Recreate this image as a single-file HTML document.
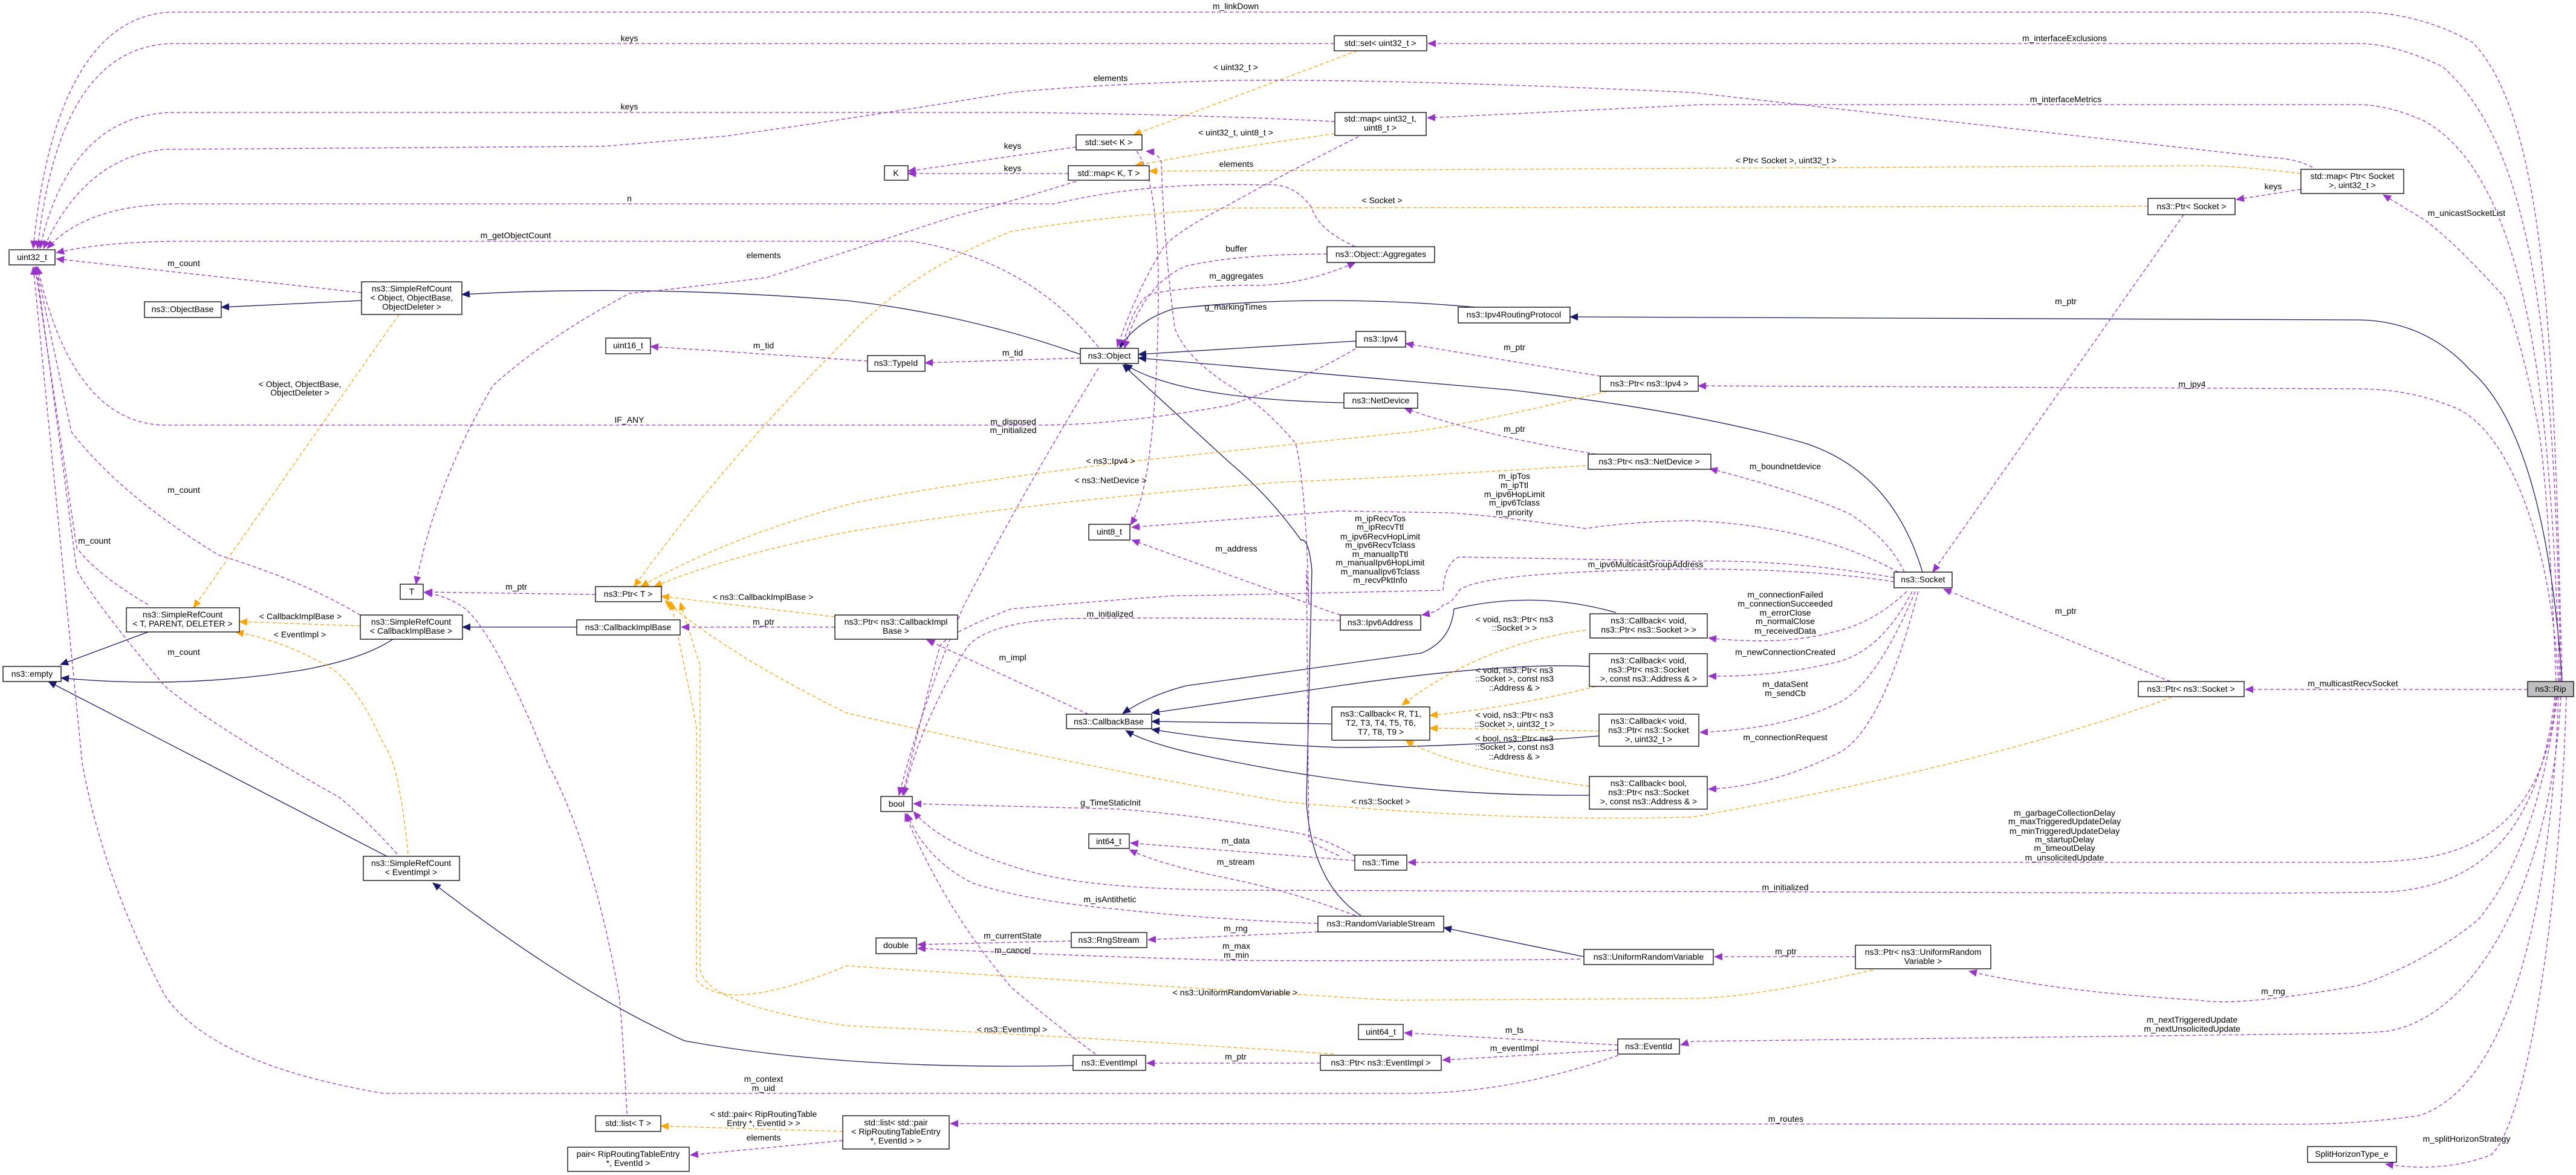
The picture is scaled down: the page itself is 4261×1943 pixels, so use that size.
<!DOCTYPE html>
<html><head><meta charset="utf-8"><style>
html,body{margin:0;padding:0;background:#fff;}
svg{display:block;}
text{font-family:"Liberation Sans",sans-serif;font-size:14px;fill:#000;}
.n{fill:#fff;stroke:#000;stroke-width:1.3;}
.p{fill:none;stroke:#9a32cd;stroke-width:1.3;stroke-dasharray:6,4;marker-end:url(#mp);}
.o{fill:none;stroke:#ffa500;stroke-width:1.3;stroke-dasharray:6,4;marker-end:url(#mo);}
.b{fill:none;stroke:#191970;stroke-width:1.3;marker-end:url(#mb);}
</style></head><body>
<svg width="4261" height="1943" viewBox="0 0 4261 1943" xmlns="http://www.w3.org/2000/svg">
<defs>
<marker id="mp" markerUnits="userSpaceOnUse" markerWidth="14" markerHeight="12" refX="13" refY="6" orient="auto"><path d="M0,0 L14,6 L0,12 z" fill="#9a32cd"/></marker>
<marker id="mo" markerUnits="userSpaceOnUse" markerWidth="14" markerHeight="12" refX="13" refY="6" orient="auto"><path d="M0,0 L14,6 L0,12 z" fill="#ffa500"/></marker>
<marker id="mb" markerUnits="userSpaceOnUse" markerWidth="14" markerHeight="12" refX="13" refY="6" orient="auto"><path d="M0,0 L14,6 L0,12 z" fill="#191970"/></marker>
</defs>

<path class="b" d="M598,497 L366,508"/>
<path class="b" d="M1787,586 Q1600,520 1400,497 Q1060,470 764,487"/>
<path class="b" d="M2440,508 Q2180,485 1943,510 Q1880,530 1852,575"/>
<path class="b" d="M2243,564 L1883,586"/>
<path class="b" d="M2223,666 Q1950,660 1860,602"/>
<path class="b" d="M3180,946 Q3130,780 2986,733 Q2800,680 2500,645 L1883,592"/>
<path class="b" d="M4238,1127 Q4210,720 4086,612 Q4011,530 3900,529 L2597,524"/>
<path class="b" d="M2251,1514 Q2170,1460 2161,1326 L2170,943 Q2165,890 2152,893 Q2100,820 2034,765 L1857,603"/>
<path class="b" d="M2620,1582 L2388,1534"/>
<path class="b" d="M650,1057 Q600,1090 500,1108 Q300,1140 101,1121"/>
<path class="b" d="M245,1045 L100,1099"/>
<path class="b" d="M640,1416 L80,1127"/>
<path class="b" d="M1775,1762 Q1400,1770 1132,1721 Q950,1640 716,1460"/>
<path class="b" d="M954,1037 L765,1037"/>
<path class="b" d="M2673,1013 Q2540,975 2405,1007 Q2400,1060 2351,1080 L1962,1134 Q1900,1150 1857,1180"/>
<path class="b" d="M2629,1102 Q2487,1095 2215,1134 L1905,1179"/>
<path class="b" d="M2203,1197 L1905,1193"/>
<path class="b" d="M2645,1217 Q2400,1236 2215,1236 Q2050,1230 1905,1206"/>
<path class="b" d="M2629,1315 Q2306,1318 1989,1249 Q1900,1230 1862,1208"/>

<path class="o" d="M660,520 L320,1005"/>
<path class="o" d="M2245,84 L1875,223"/>
<path class="o" d="M2208,221 Q2000,250 1877,274"/>
<path class="o" d="M3806,287 Q3700,274 3639,274 L1901,283"/>
<path class="o" d="M3553,341 L2034,344 Q1800,360 1672,383 Q1500,450 1400,561 Q1200,760 1049,970"/>
<path class="o" d="M2659,647 Q2400,710 2306,717 Q1900,760 1853,765 Q1500,810 1400,835 Q1200,890 1060,970"/>
<path class="o" d="M2623,770 Q2300,790 2125,797 Q1700,830 1400,880 Q1200,920 1082,970"/>
<path class="o" d="M1381,1020 L1094,986"/>
<path class="o" d="M3592,1153 Q3300,1262 2800,1351 Q2500,1360 2125,1326 Q1800,1270 1400,1179 Q1200,1080 1100,993"/>
<path class="o" d="M3098,1604 Q2900,1650 2800,1651 L2306,1654 Q1900,1630 1400,1597 Q1200,1680 1152,1620 L1152,1200 L1110,995"/>
<path class="o" d="M2206,1743 Q1800,1715 1400,1696 Q1160,1660 1158,1600 L1158,1100 L1125,996"/>
<path class="o" d="M596,1035 L396,1028"/>
<path class="o" d="M675,1412 Q660,1260 634,1230 Q590,1130 543,1102 Q470,1060 390,1045"/>
<path class="o" d="M1394,1871 L1093,1862"/>
<path class="o" d="M2623,1042 Q2450,1065 2319,1166"/>
<path class="o" d="M2640,1135 Q2500,1170 2365,1183"/>
<path class="o" d="M2645,1209 L2365,1204"/>
<path class="o" d="M2629,1300 Q2400,1270 2325,1224"/>

<path class="p" d="M4238,1127 C4225,600 4215,200 4090,70 Q4000,20 3900,20 L290,20 C120,20 70,250 55,411"/>
<path class="p" d="M2207,72 L290,72 C130,72 80,250 62,411"/>
<path class="p" d="M4236,1127 C4225,600 4200,250 4040,110 Q3960,72 3900,72 L2362,72"/>
<path class="p" d="M2208,201 Q2000,190 1700,186 L290,186 C150,186 90,300 66,411"/>
<path class="p" d="M4234,1127 C4220,700 4190,300 4010,200 Q3950,173 3900,173 L2816,173 L2361,195"/>
<path class="p" d="M3825,277 Q3800,262 3750,260 L2800,153 Q2300,130 2034,133 Q1800,140 1672,153 Q1420,195 1200,225 Q1000,242 996,242 L272,247 Q140,260 72,411"/>
<path class="p" d="M2242,408 Q2180,380 2170,344 Q2140,300 2088,306 Q1900,300 1744,337 L290,337 Q140,340 78,411"/>
<path class="p" d="M1817,574 Q1700,430 1509,399 L290,399 Q170,400 93,418"/>
<path class="p" d="M598,484 L93,428"/>
<path class="p" d="M2242,577 Q2150,630 2034,670 Q1850,703 1717,703 L272,703 Q120,700 62,441"/>
<path class="p" d="M596,1017 Q500,960 362,918 Q200,820 118,714 L60,441"/>
<path class="p" d="M245,1000 Q160,950 127,906 L58,441"/>
<path class="p" d="M657,1412 Q600,1350 562,1319 Q350,1200 272,1134 Q160,1000 127,943 L60,441"/>
<path class="p" d="M2677,1745 Q2500,1808 2333,1808 L634,1808 Q350,1760 272,1645 Q170,1450 136,1262 L55,441"/>
<path class="p" d="M1767,287 L1502,287"/>
<path class="p" d="M1780,243 L1502,283"/>
<path class="p" d="M1780,300 Q1650,340 1581,357 Q1450,400 1268,459 Q1100,480 1042,485 Q900,560 815,638 Q720,800 688,966"/>
<path class="p" d="M2247,226 Q2100,300 2034,338 Q1950,380 1925,408 Q1880,480 1848,574"/>
<path class="p" d="M1880,250 Q1918,300 1916,500 Q1912,800 1870,868"/>
<path class="p" d="M2215,1415 Q2170,1395 2165,1389 L2161,943 L2165,1000 Q2160,800 2143,733 Q2090,670 2034,638 Q1960,590 1943,542 Q1925,400 1921,268 Q1915,252 1896,250"/>
<path class="p" d="M2195,420 Q2050,420 1962,440 Q1890,470 1860,576"/>
<path class="p" d="M1855,576 Q1880,490 1907,485 Q2000,470 2079,472 Q2160,470 2242,434"/>
<path class="p" d="M1787,592 L1530,600"/>
<path class="p" d="M1435,597 L1076,573"/>
<path class="p" d="M2647,622 L2325,568"/>
<path class="p" d="M4232,1127 C4220,900 4150,700 4050,670 Q3980,643 3900,643 L2809,638"/>
<path class="p" d="M2640,751 Q2450,720 2323,675"/>
<path class="p" d="M3150,946 Q3126,893 3060,850 Q2986,816 2828,775"/>
<path class="p" d="M3140,946 Q3000,870 2800,861 Q2700,862 2623,874 Q2450,850 2396,848 L2215,845 L1872,872"/>
<path class="p" d="M3133,955 Q2958,925 2800,928 L2414,921 Q2390,930 2387,976 Q2000,985 1943,985 Q1800,995 1672,1007 Q1560,1050 1554,1071 Q1520,1200 1493,1315"/>
<path class="p" d="M3133,962 Q3000,941 2800,941 Q2450,945 2414,976 Q2400,1000 2387,1000 Q2380,1012 2352,1017"/>
<path class="p" d="M2217,1017 Q2180,1005 2170,1000 L1872,893"/>
<path class="p" d="M2217,1026 Q2000,1020 1762,1023 Q1630,1030 1599,1071 Q1520,1200 1495,1315"/>
<path class="p" d="M1817,609 Q1700,800 1595,1000 Q1530,1150 1487,1315"/>
<path class="p" d="M1800,1181 L1533,1058"/>
<path class="p" d="M1381,1037 L1127,1037"/>
<path class="p" d="M985,983 L702,979"/>
<path class="p" d="M1037,1842 Q1030,1700 1024,1645 Q980,1400 906,1262 Q820,1050 770,1007 Q740,985 702,980"/>
<path class="p" d="M1394,1886 L1142,1910"/>
<path class="p" d="M4232,1152 C4220,1500 4150,1800 4000,1845 Q3900,1859 3800,1859 L1572,1858"/>
<path class="p" d="M4245,1152 C4235,1500 4180,1860 4120,1910 Q4040,1940 3946,1925"/>
<path class="p" d="M4236,1152 C4220,1450 4100,1680 3950,1705 Q3900,1710 3800,1710 L2800,1722 L2780,1728"/>
<path class="p" d="M4230,1152 Q4198,1400 4100,1520 Q4011,1593 3900,1630 Q3700,1665 3639,1654 Q3400,1640 3257,1606"/>
<path class="p" d="M3069,1582 L2836,1582"/>
<path class="p" d="M2614,1586 Q2300,1590 2034,1588 Q1750,1580 1518,1568"/>
<path class="p" d="M1772,1556 L1518,1562"/>
<path class="p" d="M1812,1743 Q1740,1690 1672,1632 Q1560,1500 1497,1345"/>
<path class="p" d="M2180,1541 L1899,1554"/>
<path class="p" d="M2179,1527 Q2000,1520 1853,1504 Q1700,1490 1608,1460 Q1530,1420 1500,1345"/>
<path class="p" d="M2242,1514 Q2140,1475 2034,1453 Q1920,1430 1868,1405"/>
<path class="p" d="M2241,1423 L1870,1394"/>
<path class="p" d="M2242,1416 Q2190,1385 2143,1377 Q2000,1350 1853,1338 L1511,1329"/>
<path class="p" d="M4228,1152 C4215,1300 4150,1400 4000,1420 Q3950,1426 3900,1426 L2329,1426"/>
<path class="p" d="M4226,1152 C4200,1380 4100,1465 3950,1475 Q3800,1477 3700,1477 L2034,1472 Q1800,1470 1700,1440 Q1560,1400 1511,1342"/>
<path class="p" d="M3590,1127 L3215,974"/>
<path class="p" d="M4181,1140 L3714,1140"/>
<path class="p" d="M3612,355 L3197,946"/>
<path class="p" d="M3806,313 L3699,330"/>
<path class="p" d="M4228,1127 Q4215,800 4198,702 Q4170,560 4142,491 Q4060,400 4011,364 L3942,322"/>
<path class="p" d="M3154,978 Q3100,1030 3033,1045 Q2950,1068 2826,1055"/>
<path class="p" d="M3163,978 Q3110,1080 3033,1096 Q2930,1120 2826,1118"/>
<path class="p" d="M3168,978 Q3100,1140 3033,1166 Q2950,1205 2812,1211"/>
<path class="p" d="M3173,978 Q3110,1220 3033,1249 Q2930,1300 2826,1305"/>
<path class="p" d="M2184,1758 L1897,1758"/>
<path class="p" d="M2676,1736 L2386,1753"/>
<path class="p" d="M2676,1728 L2323,1708"/>

<g>
<rect class="n" x="15" y="413" width="76" height="25"/><text x="53" y="430" text-anchor="middle">uint32_t</text>
<rect class="n" x="239" y="499" width="127" height="26"/><text x="302" y="516" text-anchor="middle">ns3::ObjectBase</text>
<rect class="n" x="598" y="466" width="166" height="54"/><text x="681" y="482" text-anchor="middle">ns3::SimpleRefCount</text><text x="681" y="497" text-anchor="middle">&lt; Object, ObjectBase,</text><text x="681" y="512" text-anchor="middle">ObjectDeleter &gt;</text>
<rect class="n" x="1002" y="559" width="74" height="26"/><text x="1039" y="576" text-anchor="middle">uint16_t</text>
<rect class="n" x="662" y="966" width="38" height="25"/><text x="681" y="983" text-anchor="middle">T</text>
<rect class="n" x="985" y="970" width="109" height="25"/><text x="1039" y="987" text-anchor="middle">ns3::Ptr&lt; T &gt;</text>
<rect class="n" x="2207" y="59" width="153" height="25"/><text x="2283" y="76" text-anchor="middle">std::set&lt; uint32_t &gt;</text>
<rect class="n" x="2208" y="186" width="151" height="38"/><text x="2283" y="201" text-anchor="middle">std::map&lt; uint32_t,</text><text x="2283" y="216" text-anchor="middle">uint8_t &gt;</text>
<rect class="n" x="1780" y="223" width="109" height="25"/><text x="1834" y="240" text-anchor="middle">std::set&lt; K &gt;</text>
<rect class="n" x="1463" y="274" width="39" height="24"/><text x="1482" y="291" text-anchor="middle">K</text>
<rect class="n" x="1767" y="274" width="134" height="24"/><text x="1834" y="291" text-anchor="middle">std::map&lt; K, T &gt;</text>
<rect class="n" x="2195" y="408" width="178" height="26"/><text x="2284" y="425" text-anchor="middle">ns3::Object::Aggregates</text>
<rect class="n" x="2412" y="508" width="185" height="26"/><text x="2504" y="525" text-anchor="middle">ns3::Ipv4RoutingProtocol</text>
<rect class="n" x="2243" y="548" width="82" height="26"/><text x="2284" y="565" text-anchor="middle">ns3::Ipv4</text>
<rect class="n" x="1435" y="588" width="95" height="26"/><text x="1482" y="605" text-anchor="middle">ns3::TypeId</text>
<rect class="n" x="1787" y="576" width="96" height="25"/><text x="1835" y="593" text-anchor="middle">ns3::Object</text>
<rect class="n" x="2647" y="622" width="162" height="25"/><text x="2728" y="639" text-anchor="middle">ns3::Ptr&lt; ns3::Ipv4 &gt;</text>
<rect class="n" x="2223" y="650" width="122" height="25"/><text x="2284" y="667" text-anchor="middle">ns3::NetDevice</text>
<rect class="n" x="2627" y="751" width="203" height="25"/><text x="2728" y="768" text-anchor="middle">ns3::Ptr&lt; ns3::NetDevice &gt;</text>
<rect class="n" x="1801" y="867" width="68" height="26"/><text x="1835" y="884" text-anchor="middle">uint8_t</text>
<rect class="n" x="3806" y="280" width="170" height="40"/><text x="3891" y="296" text-anchor="middle">std::map&lt; Ptr&lt; Socket</text><text x="3891" y="311" text-anchor="middle">&gt;, uint32_t &gt;</text>
<rect class="n" x="3553" y="328" width="144" height="27"/><text x="3625" y="346" text-anchor="middle">ns3::Ptr&lt; Socket &gt;</text>
<rect class="n" x="3133" y="946" width="96" height="26"/><text x="3181" y="963" text-anchor="middle">ns3::Socket</text>
<rect class="n" x="209" y="1005" width="187" height="40"/><text x="302" y="1021" text-anchor="middle">ns3::SimpleRefCount</text><text x="302" y="1036" text-anchor="middle">&lt; T, PARENT, DELETER &gt;</text>
<rect class="n" x="596" y="1017" width="169" height="40"/><text x="680" y="1033" text-anchor="middle">ns3::SimpleRefCount</text><text x="680" y="1048" text-anchor="middle">&lt; CallbackImplBase &gt;</text>
<rect class="n" x="954" y="1025" width="171" height="25"/><text x="1039" y="1042" text-anchor="middle">ns3::CallbackImplBase</text>
<rect class="n" x="5" y="1102" width="96" height="25"/><text x="53" y="1119" text-anchor="middle">ns3::empty</text>
<rect class="n" x="601" y="1416" width="159" height="40"/><text x="680" y="1432" text-anchor="middle">ns3::SimpleRefCount</text><text x="680" y="1447" text-anchor="middle">&lt; EventImpl &gt;</text>
<rect class="n" x="985" y="1845" width="108" height="26"/><text x="1039" y="1862" text-anchor="middle">std::list&lt; T &gt;</text>
<rect class="n" x="939" y="1897" width="201" height="40"/><text x="1039" y="1913" text-anchor="middle">pair&lt; RipRoutingTableEntry</text><text x="1039" y="1928" text-anchor="middle">*, EventId &gt;</text>
<rect class="n" x="1381" y="1017" width="203" height="40"/><text x="1482" y="1033" text-anchor="middle">ns3::Ptr&lt; ns3::CallbackImpl</text><text x="1482" y="1048" text-anchor="middle">Base &gt;</text>
<rect class="n" x="1394" y="1845" width="176" height="55"/><text x="1482" y="1861" text-anchor="middle">std::list&lt; std::pair</text><text x="1482" y="1876" text-anchor="middle">&lt; RipRoutingTableEntry</text><text x="1482" y="1891" text-anchor="middle">*, EventId &gt; &gt;</text>
<rect class="n" x="2217" y="1017" width="133" height="25"/><text x="2283" y="1034" text-anchor="middle">ns3::Ipv6Address</text>
<rect class="n" x="1764" y="1181" width="141" height="24"/><text x="1834" y="1198" text-anchor="middle">ns3::CallbackBase</text>
<rect class="n" x="2203" y="1169" width="162" height="55"/><text x="2284" y="1185" text-anchor="middle">ns3::Callback&lt; R, T1,</text><text x="2284" y="1200" text-anchor="middle">T2, T3, T4, T5, T6,</text><text x="2284" y="1215" text-anchor="middle">T7, T8, T9 &gt;</text>
<rect class="n" x="2630" y="1015" width="194" height="40"/><text x="2727" y="1031" text-anchor="middle">ns3::Callback&lt; void,</text><text x="2727" y="1046" text-anchor="middle">ns3::Ptr&lt; ns3::Socket &gt; &gt;</text>
<rect class="n" x="2629" y="1081" width="195" height="54"/><text x="2727" y="1097" text-anchor="middle">ns3::Callback&lt; void,</text><text x="2727" y="1112" text-anchor="middle">ns3::Ptr&lt; ns3::Socket</text><text x="2727" y="1127" text-anchor="middle">&gt;, const ns3::Address &amp; &gt;</text>
<rect class="n" x="2645" y="1181" width="165" height="53"/><text x="2727" y="1197" text-anchor="middle">ns3::Callback&lt; void,</text><text x="2727" y="1212" text-anchor="middle">ns3::Ptr&lt; ns3::Socket</text><text x="2727" y="1227" text-anchor="middle">&gt;, uint32_t &gt;</text>
<rect class="n" x="2629" y="1284" width="195" height="54"/><text x="2727" y="1300" text-anchor="middle">ns3::Callback&lt; bool,</text><text x="2727" y="1315" text-anchor="middle">ns3::Ptr&lt; ns3::Socket</text><text x="2727" y="1330" text-anchor="middle">&gt;, const ns3::Address &amp; &gt;</text>
<rect class="n" x="1457" y="1317" width="52" height="25"/><text x="1483" y="1334" text-anchor="middle">bool</text>
<rect class="n" x="1801" y="1379" width="67" height="24"/><text x="1834" y="1396" text-anchor="middle">int64_t</text>
<rect class="n" x="2241" y="1414" width="86" height="25"/><text x="2284" y="1431" text-anchor="middle">ns3::Time</text>
<rect class="n" x="2180" y="1515" width="208" height="26"/><text x="2284" y="1532" text-anchor="middle">ns3::RandomVariableStream</text>
<rect class="n" x="1772" y="1542" width="125" height="25"/><text x="1834" y="1559" text-anchor="middle">ns3::RngStream</text>
<rect class="n" x="1449" y="1551" width="67" height="26"/><text x="1482" y="1568" text-anchor="middle">double</text>
<rect class="n" x="2620" y="1570" width="214" height="25"/><text x="2727" y="1587" text-anchor="middle">ns3::UniformRandomVariable</text>
<rect class="n" x="2247" y="1694" width="74" height="25"/><text x="2284" y="1711" text-anchor="middle">uint64_t</text>
<rect class="n" x="1775" y="1745" width="120" height="25"/><text x="1835" y="1762" text-anchor="middle">ns3::EventImpl</text>
<rect class="n" x="2184" y="1745" width="200" height="25"/><text x="2284" y="1762" text-anchor="middle">ns3::Ptr&lt; ns3::EventImpl &gt;</text>
<rect class="n" x="2676" y="1718" width="102" height="25"/><text x="2727" y="1735" text-anchor="middle">ns3::EventId</text>
<rect class="n" x="3537" y="1127" width="175" height="25"/><text x="3624" y="1144" text-anchor="middle">ns3::Ptr&lt; ns3::Socket &gt;</text>
<rect x="4181" y="1127" width="76" height="25" fill="#bfbfbf" stroke="#000" stroke-width="1.3"/><text x="4219" y="1144" text-anchor="middle">ns3::Rip</text>
<rect class="n" x="3069" y="1563" width="224" height="39"/><text x="3181" y="1579" text-anchor="middle">ns3::Ptr&lt; ns3::UniformRandom</text><text x="3181" y="1594" text-anchor="middle">Variable &gt;</text>
<rect class="n" x="3817" y="1896" width="147" height="26"/><text x="3890" y="1913" text-anchor="middle">SplitHorizonType_e</text>
</g>

<g text-anchor="middle">
<text x="2044" y="15">m_linkDown</text>
<text x="1041" y="68">keys</text>
<text x="3415" y="68">m_interfaceExclusions</text>
<text x="2044" y="116">&lt; uint32_t &gt;</text>
<text x="1837" y="134">elements</text>
<text x="3417" y="169">m_interfaceMetrics</text>
<text x="1041" y="181">keys</text>
<text x="2044" y="224">&lt; uint32_t, uint8_t &gt;</text>
<text x="1675" y="246">keys</text>
<text x="2954" y="270">&lt; Ptr&lt; Socket &gt;, uint32_t &gt;</text>
<text x="2045" y="276">elements</text>
<text x="1675" y="283">keys</text>
<text x="3760" y="313">keys</text>
<text x="1041" y="333">n</text>
<text x="2286" y="336">&lt; Socket &gt;</text>
<text x="4080" y="357">m_unicastSocketList</text>
<text x="853" y="394">m_getObjectCount</text>
<text x="2045" y="416">buffer</text>
<text x="1263" y="427">elements</text>
<text x="304" y="440">m_count</text>
<text x="2045" y="461">m_aggregates</text>
<text x="3417" y="503">m_ptr</text>
<text x="2044" y="512">g_markingTimes</text>
<text x="1263" y="576">m_tid</text>
<text x="2505" y="579">m_ptr</text>
<text x="1675" y="588">m_tid</text>
<text x="496" y="640">&lt; Object, ObjectBase,</text>
<text x="496" y="654">ObjectDeleter &gt;</text>
<text x="3626" y="640">m_ipv4</text>
<text x="1041" y="699">IF_ANY</text>
<text x="1676" y="702">m_disposed</text>
<text x="1676" y="716">m_initialized</text>
<text x="2505" y="714">m_ptr</text>
<text x="1837" y="767">&lt; ns3::Ipv4 &gt;</text>
<text x="2953" y="776">m_boundnetdevice</text>
<text x="2505" y="792">m_ipTos</text>
<text x="2505" y="807">m_ipTtl</text>
<text x="2505" y="822">m_ipv6HopLimit</text>
<text x="2505" y="836">m_ipv6Tclass</text>
<text x="2505" y="852">m_priority</text>
<text x="1837" y="799">&lt; ns3::NetDevice &gt;</text>
<text x="304" y="815">m_count</text>
<text x="2283" y="862">m_ipRecvTos</text>
<text x="2283" y="876">m_ipRecvTtl</text>
<text x="2283" y="892">m_ipv6RecvHopLimit</text>
<text x="2283" y="906">m_ipv6RecvTclass</text>
<text x="2283" y="921">m_manualIpTtl</text>
<text x="2283" y="935">m_manualIpv6HopLimit</text>
<text x="2283" y="950">m_manualIpv6Tclass</text>
<text x="2283" y="964">m_recvPktInfo</text>
<text x="156" y="899">m_count</text>
<text x="2045" y="912">m_address</text>
<text x="2722" y="938">m_ipv6MulticastGroupAddress</text>
<text x="854" y="975">m_ptr</text>
<text x="1262" y="992">&lt; ns3::CallbackImplBase &gt;</text>
<text x="2953" y="988">m_connectionFailed</text>
<text x="2953" y="1003">m_connectionSucceeded</text>
<text x="2953" y="1018">m_errorClose</text>
<text x="2953" y="1032">m_normalClose</text>
<text x="2953" y="1048">m_receivedData</text>
<text x="3417" y="1015">m_ptr</text>
<text x="1836" y="1020">m_initialized</text>
<text x="497" y="1024">&lt; CallbackImplBase &gt;</text>
<text x="2505" y="1029">&lt; void, ns3::Ptr&lt; ns3</text>
<text x="2505" y="1043">::Socket &gt; &gt;</text>
<text x="1263" y="1033">m_ptr</text>
<text x="496" y="1054">&lt; EventImpl &gt;</text>
<text x="304" y="1083">m_count</text>
<text x="2953" y="1083">m_newConnectionCreated</text>
<text x="1675" y="1092">m_impl</text>
<text x="2505" y="1113">&lt; void, ns3::Ptr&lt; ns3</text>
<text x="2505" y="1127">::Socket &gt;, const ns3</text>
<text x="2505" y="1142">::Address &amp; &gt;</text>
<text x="3892" y="1135">m_multicastRecvSocket</text>
<text x="2953" y="1136">m_dataSent</text>
<text x="2953" y="1151">m_sendCb</text>
<text x="2505" y="1187">&lt; void, ns3::Ptr&lt; ns3</text>
<text x="2505" y="1202">::Socket &gt;, uint32_t &gt;</text>
<text x="2953" y="1224">m_connectionRequest</text>
<text x="2505" y="1226">&lt; bool, ns3::Ptr&lt; ns3</text>
<text x="2505" y="1240">::Socket &gt;, const ns3</text>
<text x="2505" y="1256">::Address &amp; &gt;</text>
<text x="2284" y="1330">&lt; ns3::Socket &gt;</text>
<text x="1837" y="1332">g_TimeStaticInit</text>
<text x="3415" y="1349">m_garbageCollectionDelay</text>
<text x="3415" y="1363">m_maxTriggeredUpdateDelay</text>
<text x="3415" y="1379">m_minTriggeredUpdateDelay</text>
<text x="3415" y="1393">m_startupDelay</text>
<text x="3415" y="1407">m_timeoutDelay</text>
<text x="3415" y="1423">m_unsolicitedUpdate</text>
<text x="2044" y="1395">m_data</text>
<text x="2044" y="1430">m_stream</text>
<text x="2953" y="1472">m_initialized</text>
<text x="1836" y="1492">m_isAntithetic</text>
<text x="2044" y="1540">m_rng</text>
<text x="1675" y="1552">m_currentState</text>
<text x="2045" y="1569">m_max</text>
<text x="2045" y="1584">m_min</text>
<text x="1675" y="1576">m_cancel</text>
<text x="2954" y="1578">m_ptr</text>
<text x="3760" y="1644">m_rng</text>
<text x="2043" y="1646">&lt; ns3::UniformRandomVariable &gt;</text>
<text x="3626" y="1691">m_nextTriggeredUpdate</text>
<text x="3626" y="1706">m_nextUnsolicitedUpdate</text>
<text x="1674" y="1707">&lt; ns3::EventImpl &gt;</text>
<text x="2505" y="1708">m_ts</text>
<text x="2505" y="1738">m_eventImpl</text>
<text x="2044" y="1752">m_ptr</text>
<text x="1263" y="1789">m_context</text>
<text x="1263" y="1804">m_uid</text>
<text x="1263" y="1847">&lt; std::pair&lt; RipRoutingTable</text>
<text x="1263" y="1862">Entry *, EventId &gt; &gt;</text>
<text x="2954" y="1855">m_routes</text>
<text x="1263" y="1886">elements</text>
<text x="4080" y="1888">m_splitHorizonStrategy</text>
</g>
</svg>
</body></html>
